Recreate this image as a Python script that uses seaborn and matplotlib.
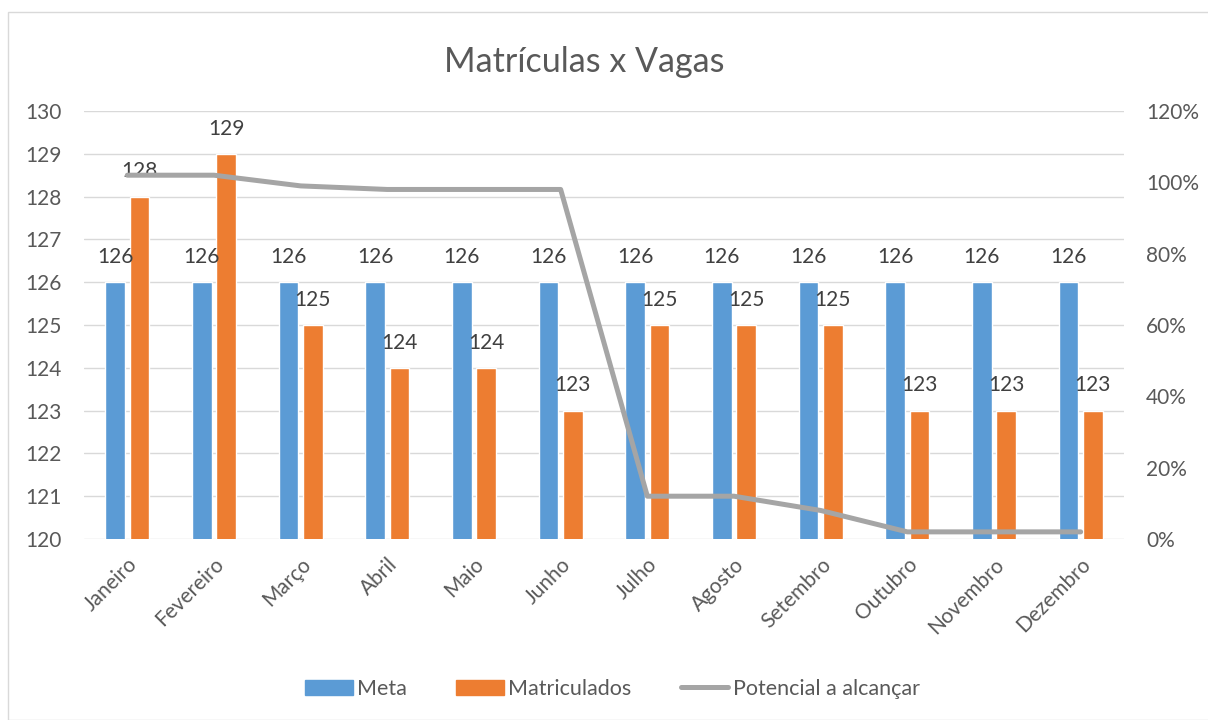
import numpy as np
import pandas as pd
import matplotlib
matplotlib.use("Agg")
import matplotlib.pyplot as plt
import seaborn as sns
from matplotlib.patches import Rectangle
from matplotlib.lines import Line2D
from matplotlib.patches import Patch
from matplotlib.ticker import PercentFormatter

meses = ['Janeiro', 'Fevereiro', 'Março', 'Abril', 'Maio', 'Junho', 'Julho',
         'Agosto', 'Setembro', 'Outubro', 'Novembro', 'Dezembro']
meta = [126, 126, 126, 126, 126, 126, 126, 126, 126, 126, 126, 126]
matriculados = [128, 129, 125, 124, 124, 123, 125, 125, 125, 123, 123, 123]
potencial = [1.02, 1.02, 0.99, 0.98, 0.98, 0.98, 0.12, 0.12, 0.08, 0.02, 0.02, 0.02]

azul = '#5B9BD5'
laranja = '#ED7D31'
cinza = '#A5A5A5'
texto = '#595959'

sns.set_theme(style='white')
plt.rcParams['font.family'] = ['Lato', 'DejaVu Sans']

df = pd.DataFrame({
    'mes': meses * 2,
    'valor': meta + matriculados,
    'serie': ['Meta'] * 12 + ['Matriculados'] * 12,
})

fig = plt.figure(figsize=(12.08, 7.2), dpi=100)
fig.patches.append(Rectangle((8 / 1208, 0), 1.2, 1 - 12 / 720, transform=fig.transFigure,
                             fill=False, edgecolor='#D9D9D9', linewidth=1))
ax = fig.add_axes([84 / 1208, 1 - 539 / 720, 1040 / 1208, 428 / 720])

sns.barplot(data=df, x='mes', y='valor', hue='serie', order=meses,
            palette=[azul, laranja], width=0.565, gap=0.2, saturation=1,
            legend=False, ax=ax)
ax.set_ylim(120, 130)
ax.set_yticks(range(120, 131))
ax.set_xlim(-0.5, 11.5)
ax.grid(axis='y', color='#D9D9D9', linewidth=1)
ax.set_axisbelow(True)
for s in ax.spines.values():
    s.set_visible(False)
ax.set_xlabel('')
ax.set_ylabel('')
ax.tick_params(axis='y', length=0, labelsize=15, labelcolor=texto, pad=16)
ax.tick_params(axis='x', length=0, labelsize=15, labelcolor=texto, pad=11)
for lbl in ax.get_xticklabels():
    lbl.set_rotation(45)
    lbl.set_ha('right')
    lbl.set_rotation_mode('anchor')

for cont in ax.containers:
    ax.bar_label(cont, fmt='%d', padding=11, fontsize=15, color='#404040')

ax2 = ax.twinx()
sns.lineplot(x=np.arange(len(meses)), y=potencial, color=cinza, linewidth=3.6,
             solid_capstyle='round', ax=ax2)
ax2.set_ylim(0, 1.2)
ax2.set_yticks(np.arange(0, 1.21, 0.2))
ax2.yaxis.set_major_formatter(PercentFormatter(1.0, decimals=0))
ax2.tick_params(axis='y', length=0, labelsize=15, labelcolor=texto, pad=16)
for s in ax2.spines.values():
    s.set_visible(False)
ax2.set_xlim(-0.5, 11.5)

fig.text(0.484, 1 - 62 / 720, 'Matrículas x Vagas', ha='center', va='center',
         fontsize=24.5, color=texto)

handles = [Patch(color=azul, label='Meta'), Patch(color=laranja, label='Matriculados'),
           Line2D([], [], color=cinza, linewidth=3.6, solid_capstyle='round',
                  label='Potencial a alcançar')]
fig.legend(handles=handles, loc='center', bbox_to_anchor=(0.507, 1 - 689 / 720), ncol=3,
           frameon=False, fontsize=15.5, labelcolor=texto, handlelength=2.2,
           handletextpad=0.2, columnspacing=2.3)

fig.savefig('out.png', dpi=100)
